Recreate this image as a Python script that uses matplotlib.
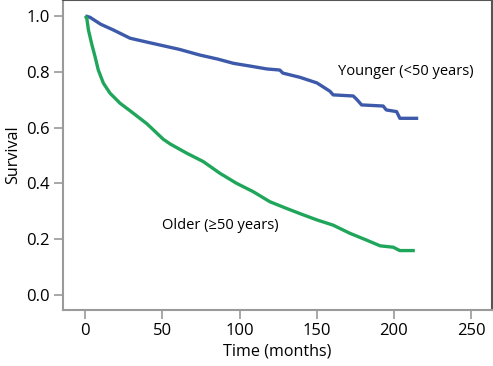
import matplotlib
matplotlib.use("Agg")
import matplotlib.pyplot as plt

plt.rcParams['font.family'] = ['Open Sans', 'DejaVu Sans']

# Kaplan-Meier style curves (time in months, survival)
young_t = [0, 3, 10, 18, 29, 40, 50.5, 61, 74, 86, 96, 107, 117.5, 126, 128,
           139, 150, 152, 158.5, 160.6, 173.6, 176, 179, 193, 195, 201.7,
           203.8, 215.7]
young_s = [1.0, 0.995, 0.97, 0.95, 0.92, 0.906, 0.893, 0.88, 0.86, 0.845,
           0.83, 0.82, 0.81, 0.806, 0.795, 0.78, 0.76, 0.753, 0.73, 0.717,
           0.713, 0.70, 0.681, 0.677, 0.663, 0.657, 0.633, 0.633]

old_t = [0, 1, 2, 4.1, 6.3, 8.4, 11.7, 16, 22.5, 29, 40, 50.5, 55, 65.7, 76.4,
         87.2, 98, 108.8, 119.6, 130.4, 141.2, 150, 160.6, 171.4, 182, 191,
         199.5, 203.8, 213.5]
old_s = [1.0, 0.99, 0.95, 0.90, 0.854, 0.806, 0.759, 0.723, 0.687, 0.66,
         0.613, 0.558, 0.541, 0.508, 0.478, 0.436, 0.40, 0.37, 0.334, 0.31,
         0.287, 0.269, 0.25, 0.221, 0.197, 0.176, 0.171, 0.159, 0.159]

labels = ["Younger (<50 years)", "Older (\u226550 years)"]
xticks = [0, 50, 100, 150, 200, 250]
yticks = [0.0, 0.2, 0.4, 0.6, 0.8, 1.0]

fig = plt.figure(figsize=(4.93, 3.66), dpi=100)
ax = fig.add_axes([0.128, 0.153, 0.869, 0.847])

ax.plot(young_t, young_s, color="#3d5aaa", lw=2.4, solid_capstyle="butt")
ax.plot(old_t, old_s, color="#1fa65a", lw=2.4, solid_capstyle="butt")

ax.text(163.5, 0.80, labels[0], fontsize=10.5, va="center", ha="left")
ax.text(49.7, 0.25, labels[1], fontsize=10.5, va="center", ha="left")

ax.set_xlim(-14.4, 263.2)
ax.set_ylim(-0.054, 1.057)
ax.set_xticks(xticks)
ax.set_yticks(yticks)
ax.set_yticklabels([f"{v:.1f}" for v in yticks])
ax.set_xlabel("Time (months)", fontsize=11.6, labelpad=3)
ax.set_ylabel("Survival", fontsize=11.6, labelpad=4)

for side in ["left", "bottom"]:
    ax.spines[side].set_color("#9a9a9a")
    ax.spines[side].set_linewidth(1.5)
for side in ["top", "right"]:
    ax.spines[side].set_color("#555555")
    ax.spines[side].set_linewidth(1.5)
ax.tick_params(colors="#9a9a9a", labelcolor="black", length=6.5, width=1.2,
               labelsize=12, pad=3)

fig.savefig("out.png", dpi=100)
